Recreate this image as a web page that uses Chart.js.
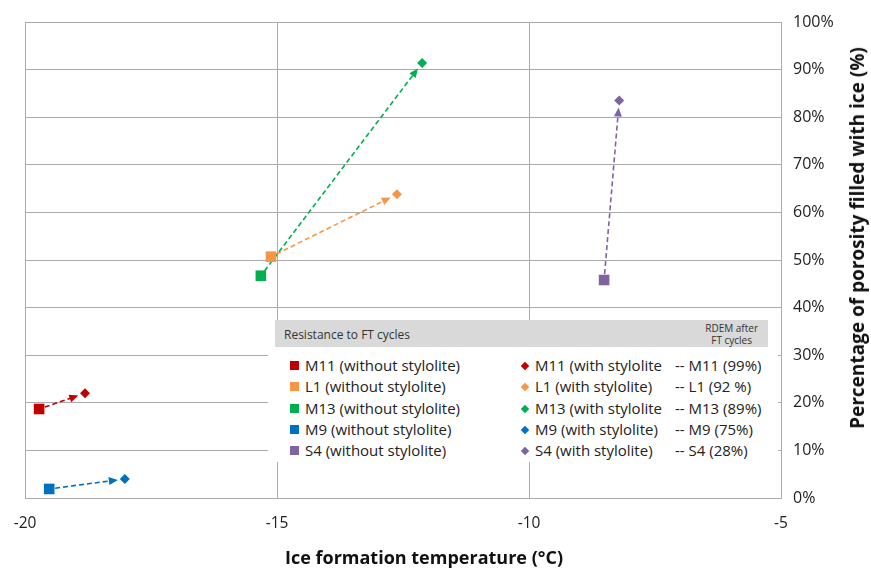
<!DOCTYPE html>
<html>
<head>
<meta charset="utf-8">
<script src="https://cdn.jsdelivr.net/npm/chart.js@4/dist/chart.umd.min.js"></script>
<style>
  html,body{margin:0;padding:0;background:#fff;}
  #wrap{position:relative;width:871px;height:572px;font-family:"Open Sans",sans-serif;}
  #lg{position:absolute;left:268px;top:320px;width:510px;height:142px;background:#fff;}
  #lg .hd{position:absolute;left:7px;top:0;width:493px;height:27px;background:#d9d9d9;}
  #lg .hd .t1{position:absolute;left:9px;top:6px;font-size:12px;color:#333;}
  #lg .hd .t2{position:absolute;right:10px;top:2px;font-size:10px;line-height:12px;color:#333;text-align:center;}
  #lg .row{position:absolute;font-size:15px;color:#222;white-space:nowrap;line-height:20px;}
  #lg .sq{display:inline-block;width:9px;height:9px;margin-right:6px;vertical-align:1px;}
  #lg .dm{display:inline-block;width:6px;height:6px;margin-right:7px;margin-left:1px;transform:rotate(45deg);vertical-align:2px;}
  .ttl{position:absolute;font-weight:bold;color:#111;white-space:nowrap;}
  #xt{left:424px;top:557px;font-size:18px;transform:translate(-50%,-50%);}
  #yt{left:857px;top:238px;font-size:19px;transform:translate(-50%,-50%) rotate(-90deg);}
</style>
</head>
<body>
<div id="wrap">
  <canvas id="c" width="871" height="572"></canvas>
  <div id="lg"></div>
  <div class="ttl" id="xt">Ice formation temperature (°C)</div>
  <div class="ttl" id="yt">Percentage of porosity filled with ice (%)</div>
</div>
<script>
// 시료 / 결빙 온도 / 공극 결빙률
const SAMPLES=['M11','L1','M13','M9','S4'];
const COLORS=['#c00000','#f79646','#00b050','#0070c0','#8064a2'];
const LBL_WITHOUT=['M11 (without stylolite)','L1 (without stylolite)','M13 (without stylolite)','M9 (without stylolite)','S4 (without stylolite)'];
const LBL_WITH=['M11 (with stylolite','L1 (with stylolite)','M13 (with stylolite','M9 (with stylolite)','S4 (with stylolite)'];
const T_WITHOUT=[-19.72,-15.12,-15.32,-19.52,-8.51];
const P_WITHOUT=[18.7,50.7,46.7,1.9,45.8];
const T_WITH=[-18.81,-12.62,-12.12,-18.02,-8.21];
const P_WITH=[22.0,63.8,91.4,4.0,83.5];
const RDEM=['-- M11 (99%)','-- L1 (92 %)','-- M13 (89%)','-- M9 (75%)','-- S4 (28%)'];
const X_TICKS=[-20,-15,-10,-5];
const Y_TICKS=[0,10,20,30,40,50,60,70,80,90,100];

const GRID='#ababab';

const datasets=[];
SAMPLES.forEach((s,i)=>{
  datasets.push({label:LBL_WITHOUT[i],data:[{x:T_WITHOUT[i],y:P_WITHOUT[i]}],
    pointStyle:'rect',pointRadius:7.5,backgroundColor:COLORS[i],borderColor:COLORS[i],borderWidth:0});
});
SAMPLES.forEach((s,i)=>{
  datasets.push({label:LBL_WITH[i],data:[{x:T_WITH[i],y:P_WITH[i]}],
    pointStyle:'rectRot',pointRadius:5,backgroundColor:COLORS[i],borderColor:COLORS[i],borderWidth:0});
});

// 점선 화살표 (without → with)
const arrows={id:'arrows',beforeDatasetsDraw(ch){
  const {ctx,scales:{x,y}}=ch;
  SAMPLES.forEach((s,i)=>{
    const x0=x.getPixelForValue(T_WITHOUT[i]), y0=y.getPixelForValue(P_WITHOUT[i]);
    const x1=x.getPixelForValue(T_WITH[i]), y1=y.getPixelForValue(P_WITH[i]);
    const dx=x1-x0, dy=y1-y0, L=Math.hypot(dx,dy), ux=dx/L, uy=dy/L;
    const sx=x0+ux*6, sy=y0+uy*6, ex=x1-ux*7, ey=y1-uy*7;
    const hl=9, hw=4;
    ctx.save();
    ctx.strokeStyle=COLORS[i];ctx.fillStyle=COLORS[i];ctx.lineWidth=1.6;
    ctx.setLineDash([5,3]);
    ctx.beginPath();ctx.moveTo(sx,sy);ctx.lineTo(ex-ux*hl*0.8,ey-uy*hl*0.8);ctx.stroke();
    ctx.setLineDash([]);
    ctx.beginPath();
    ctx.moveTo(ex,ey);
    ctx.lineTo(ex-ux*hl-uy*hw,ey-uy*hl+ux*hw);
    ctx.lineTo(ex-ux*hl+uy*hw,ey-uy*hl-ux*hw);
    ctx.closePath();ctx.fill();
    ctx.restore();
  });
}};

new Chart(document.getElementById('c'),{type:'scatter',
  data:{datasets},
  plugins:[arrows],
  options:{responsive:false,animation:false,
    layout:{padding:{left:25,top:22,right:0,bottom:0}},
    plugins:{legend:{display:false},tooltip:{enabled:false}},
    scales:{
      x:{type:'linear',min:-20,max:-5,
        afterBuildTicks:a=>{a.ticks=X_TICKS.map(v=>({value:v}));},
        afterFit:a=>{a.height=74;a.paddingLeft=0;a.paddingRight=0;},
        grid:{color:GRID,drawTicks:false},border:{color:GRID},
        ticks:{color:'#222',font:{family:'Open Sans',size:15.5},padding:16}},
      y:{type:'linear',position:'right',min:0,max:100,
        afterBuildTicks:a=>{a.ticks=Y_TICKS.map(v=>({value:v}));},
        afterFit:a=>{a.width=90;a.paddingTop=0;a.paddingBottom=0;},
        grid:{color:GRID,drawTicks:false},border:{color:GRID},
        ticks:{color:'#222',font:{family:'Open Sans',size:16},padding:12,callback:v=>v+'%'}}
    }}});

// 범례 (HTML)
const lg=document.getElementById('lg');
let html='<div class="hd"><span class="t1">Resistance to FT cycles</span><span class="t2">RDEM after<br>FT cycles</span></div>';
SAMPLES.forEach((s,i)=>{
  const top=35+i*21.3;
  html+=`<div class="row" style="left:22px;top:${top}px"><span class="sq" style="background:${COLORS[i]}"></span>${LBL_WITHOUT[i]}</div>`;
  html+=`<div class="row" style="left:253px;top:${top}px"><span class="dm" style="background:${COLORS[i]}"></span>${LBL_WITH[i]}</div>`;
  html+=`<div class="row" style="left:407px;top:${top}px">${RDEM[i]}</div>`;
});
lg.innerHTML=html;
</script>
</body>
</html>
